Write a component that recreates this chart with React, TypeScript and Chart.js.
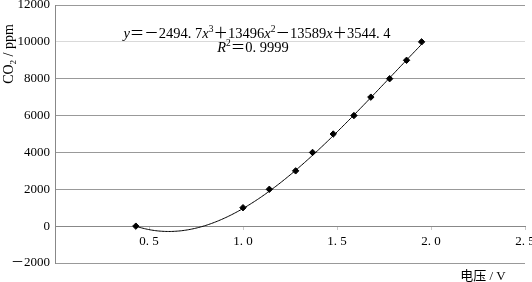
import React, { useEffect, useRef } from 'react';
import { Chart, registerables } from 'chart.js';

Chart.register(...registerables);

// Data
const voltage = [0.43, 1.0, 1.14, 1.28, 1.37, 1.48, 1.59, 1.68, 1.78, 1.87, 1.95];
const co2 = [0, 1000, 2000, 3000, 4000, 5000, 6000, 7000, 8000, 9000, 10000];
// Displayed cubic trendline: y = c3 x^3 + c2 x^2 + c1 x + c0
const trendCoefficients = [3544.4, -13589, 13496, -2494.7]; // c0, c1, c2, c3
const yTickValues = [-2000, 0, 2000, 4000, 6000, 8000, 10000, 12000];
const xTickValues = [0.5, 1.0, 1.5, 2.0, 2.5];
const yTitle = ['CO', '2', ' / ppm'];
const xTitle = '电压 / V';
const rSquaredText = '0. 9999';

const SERIF = "'Liberation Serif', 'Noto Sans CJK SC', serif";

type Seg = { t: string; font: string; dy?: number };

function drawSegs(ctx: CanvasRenderingContext2D, segs: Seg[], cx: number, baseY: number) {
  let total = 0;
  for (const s of segs) {
    ctx.font = s.font;
    total += ctx.measureText(s.t).width;
  }
  let x = cx - total / 2;
  for (const s of segs) {
    ctx.font = s.font;
    ctx.fillText(s.t, x, baseY + (s.dy || 0));
    x += ctx.measureText(s.t).width;
  }
}

function fmtNum(v: number): string {
  const abs = Math.abs(v);
  return abs % 1 === 0 ? String(abs) : String(abs).replace('.', '. ');
}

const trendlinePlugin = {
  id: 'trendline',
  beforeDatasetsDraw(chart: any) {
    const { ctx, chartArea, scales } = chart;
    const xs = scales.x;
    const ys = scales.y;
    const xMin = Math.min(...voltage);
    const xMax = Math.max(...voltage);
    const poly = (x: number) =>
      trendCoefficients.reduce((acc, c, i) => acc + c * Math.pow(x, i), 0);
    ctx.save();
    ctx.beginPath();
    ctx.rect(chartArea.left, chartArea.top, chartArea.right - chartArea.left, chartArea.bottom - chartArea.top);
    ctx.clip();
    ctx.beginPath();
    const n = 200;
    for (let i = 0; i <= n; i++) {
      const xv = xMin + ((xMax - xMin) * i) / n;
      const px = xs.getPixelForValue(xv);
      const py = ys.getPixelForValue(poly(xv));
      if (i === 0) ctx.moveTo(px, py);
      else ctx.lineTo(px, py);
    }
    ctx.strokeStyle = '#000';
    ctx.lineWidth = 1;
    ctx.stroke();
    ctx.restore();
  },
};

const textPlugin = {
  id: 'texts',
  afterDraw(chart: any) {
    const { ctx } = chart;
    ctx.save();
    ctx.fillStyle = '#000';
    ctx.textBaseline = 'alphabetic';
    ctx.textAlign = 'left';
    const f = `14.5px ${SERIF}`;
    const fi = `italic 14.5px ${SERIF}`;
    const fs = `9.5px ${SERIF}`;
    const [c0, c1, c2, c3] = trendCoefficients;
    const sign = (v: number) => (v < 0 ? '－' : '＋');
    const eq: Seg[] = [
      { t: 'y', font: fi },
      { t: '＝', font: f },
      { t: sign(c3) + fmtNum(c3), font: f },
      { t: 'x', font: fi },
      { t: '3', font: fs, dy: -6 },
      { t: sign(c2) + fmtNum(c2), font: f },
      { t: 'x', font: fi },
      { t: '2', font: fs, dy: -6 },
      { t: sign(c1) + fmtNum(c1), font: f },
      { t: 'x', font: fi },
      { t: sign(c0) + fmtNum(c0), font: f },
    ];
    drawSegs(ctx, eq, 257, 38);
    const r2: Seg[] = [
      { t: 'R', font: fi },
      { t: '2', font: fs, dy: -6 },
      { t: '＝' + rSquaredText, font: f },
    ];
    drawSegs(ctx, r2, 253, 52);

    // y axis title (rotated)
    ctx.save();
    ctx.translate(13, 54);
    ctx.rotate(-Math.PI / 2);
    drawSegs(
      ctx,
      [
        { t: yTitle[0], font: `14px ${SERIF}` },
        { t: yTitle[1], font: `9px ${SERIF}`, dy: 3 },
        { t: yTitle[2], font: `14px ${SERIF}` },
      ],
      0,
      0
    );
    ctx.restore();

    // x axis title
    drawSegs(ctx, [{ t: xTitle, font: `13px ${SERIF}` }], 483, 280);
    ctx.restore();
  },
};

export default function App() {
  const canvasRef = useRef<HTMLCanvasElement | null>(null);

  useEffect(() => {
    if (!canvasRef.current) return;
    const chart = new Chart(canvasRef.current, {
      type: 'scatter',
      data: {
        datasets: [
          {
            label: 'CO2',
            data: voltage.map((v, i) => ({ x: v, y: co2[i] })),
            showLine: false,
            pointStyle: 'rectRot',
            pointRadius: 3.2,
            pointBorderWidth: 1,
            pointBackgroundColor: '#000',
            pointBorderColor: '#000',
          },
        ],
      },
      options: {
        animation: false,
        responsive: true,
        maintainAspectRatio: false,
        layout: { padding: { top: 4, right: 7, left: 0, bottom: 19 } },
        plugins: {
          legend: { display: false },
          tooltip: { enabled: false },
        },
        scales: {
          x: {
            type: 'linear',
            position: { y: 0 } as any,
            min: 0,
            max: 2.5,
            afterBuildTicks: (scale: any) => {
              scale.ticks = xTickValues.map((v) => ({ value: v }));
            },
            afterFit: (scale: any) => {
              scale.height = 20;
              scale.paddingLeft = 0;
              scale.paddingRight = 0;
            },
            ticks: {
              autoSkip: false,
              maxRotation: 0,
              padding: 5,
              color: '#000',
              font: { family: SERIF, size: 13 },
              callback: (v: any) => Number(v).toFixed(1).replace('.', '. '),
            },
            grid: {
              drawOnChartArea: false,
              drawTicks: true,
              tickLength: 3,
              color: '#c8c8c8',
            },
            border: { display: true, color: '#888' },
          },
          y: {
            type: 'linear',
            position: 'left',
            min: -2000,
            max: 12000,
            afterBuildTicks: (scale: any) => {
              scale.ticks = yTickValues.map((v) => ({ value: v }));
            },
            afterFit: (scale: any) => {
              scale.width = 55;
              scale.paddingTop = 0;
              scale.paddingBottom = 0;
            },
            ticks: {
              autoSkip: false,
              padding: 5,
              color: '#000',
              font: { family: SERIF, size: 13 },
              callback: (v: any) => (Number(v) < 0 ? '－' + Math.abs(Number(v)) : String(v)),
            },
            grid: {
              drawTicks: false,
              color: (c: any) => (c.tick && c.tick.value === 10000 ? '#d9d9d9' : '#999'),
            },
            border: { display: true, color: '#888' },
          },
        },
      },
      plugins: [trendlinePlugin, textPlugin],
    });
    return () => chart.destroy();
  }, []);

  return (
    <div style={{ position: 'fixed', left: 0, top: 0, width: 532, height: 282, background: '#fff' }}>
      <canvas ref={canvasRef} />
    </div>
  );
}
